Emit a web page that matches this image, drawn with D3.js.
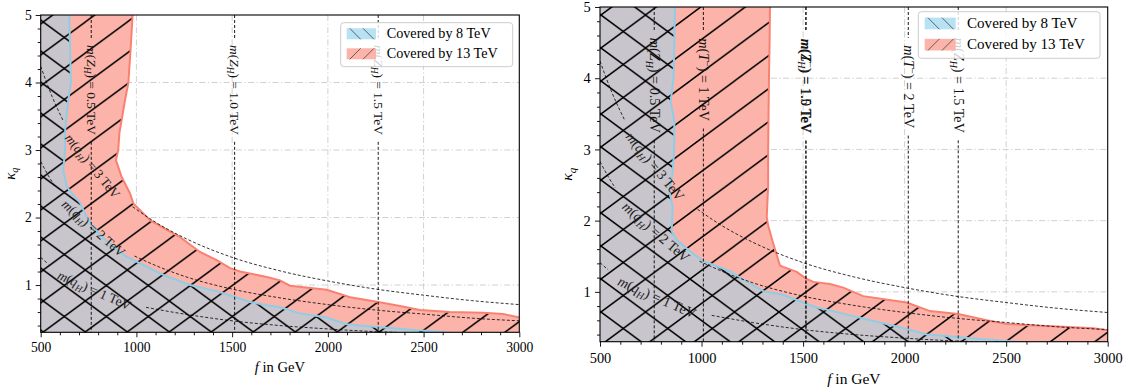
<!DOCTYPE html>
<html>
<head>
<meta charset="utf-8">
<script src="https://cdn.jsdelivr.net/npm/d3@7"></script>
<style>
  body { margin: 0; background: #fff; }
  svg { display: block; font-family: "Liberation Serif", "Times New Roman", serif; }
  text { white-space: pre; }
</style>
</head>
<body>
<svg id="chart" width="1128" height="390"></svg>
<script>
// ---- values: f in GeV, kappa_q ----
const fTicks = [500, 1000, 1500, 2000, 2500, 3000];
const kappaTicks = [1, 2, 3, 4, 5];
const legendLabels = ['Covered by 8 TeV', 'Covered by 13 TeV'];

// exclusion boundaries, left plot
const left13 = [[980,5],[972,4.6],[958,4],[940,3.73],[911,3.25],[905,3],[893,2.85],[923,2.6],[966,2.36],[984,2.21],
  [1071,1.96],[1175,1.79],[1228,1.71],[1332,1.49],[1419,1.37],[1489,1.25],[1541,1.2],[1593,1.17],[1681,1.12],
  [1750,1.07],[1802,0.99],[1994,0.93],[2116,0.82],[2263,0.75],[2377,0.69],[2481,0.63],[2638,0.6],[2812,0.59],
  [2916,0.57],[3000,0.52]];
const left8 = [[649,5],[658,4],[644,3.74],[628,3.3],[627,3],[618,2.7],[636,2.46],[662,2.36],[705,2.22],[740,2.01],
  [775,1.86],[819,1.72],[879,1.57],[949,1.42],[1019,1.32],[1140,1.15],[1280,1.0],[1419,0.91],[1506,0.83],
  [1593,0.75],[1681,0.7],[1750,0.67],[1854,0.58],[1994,0.52],[2098,0.42],[2168,0.4],[2255,0.38],[2342,0.36],
  [2464,0.33],[2586,0.31],[2650,0.29]];

// exclusion boundaries, right plot
const right13 = [[1337,5],[1335,4.5],[1332,4],[1330,3.5],[1328,3],[1328,2.49],[1321,2.05],[1328,1.93],[1353,1.68],
  [1386,1.37],[1402,1.35],[1469,1.28],[1518,1.18],[1551,1.14],[1632,1.11],[1698,1.06],[1796,0.94],[2010,0.85],
  [2125,0.73],[2264,0.69],[2404,0.6],[2503,0.55],[2617,0.53],[2781,0.51],[2929,0.49],[3000,0.46]];
const right8 = [[869,5],[866,4.5],[862,4],[848,3.67],[866,3.4],[865,3],[858,2.68],[841,2.41],[858,2.2],[853,1.85],
  [878,1.73],[943,1.57],[1009,1.43],[1140,1.29],[1206,1.17],[1304,1.01],[1402,0.96],[1501,0.85],[1567,0.78],
  [1632,0.74],[1731,0.67],[1879,0.57],[2010,0.48],[2108,0.4],[2207,0.38],[2322,0.35],[2453,0.32],[2551,0.3],
  [2650,0.29]];

// m(q_H) contours (dashed), split where the inline label sits
const qH3Before = [[500,4.24],[560,3.79],[620,3.42]];
const qH3After = [[980,2.16],[1100,1.93],[1250,1.7],[1500,1.41],[1750,1.21],[2000,1.06],[2250,0.94],[2500,0.85],[2750,0.77],[3000,0.71]];
const qH2Before = [[500,2.83],[540,2.62],[575,2.46]];
const qH2After = [[990,1.43],[1100,1.29],[1250,1.13],[1500,0.94],[1750,0.81],[2000,0.71],[2250,0.63],[2500,0.57],[2750,0.51],[3000,0.47]];
const qH1Before = [[500,1.41],[540,1.31]];
const qH1After = [[1050,0.67],[1250,0.57],[1500,0.47],[1750,0.4],[2000,0.35],[2250,0.31],[2357,0.3]];
const qHMasses = ['3', '2', '1'];
const qHLabelAt = [[770,2.76],[775,1.84],[780,0.92]];

// vertical mass lines: [f, mass label, kappa of label centre]
const leftZH = [[764,'0.5',3.89],[1513,'1.0',3.89],[2263,'1.5',3.89]];
const rightZH = [[767,'0.5',3.9],[1514,'1.0',3.89],[2264,'1.5',3.9]];
const rightT = [[1009,'1',3.98],[1514,'1.5',3.89],[2018,'2',3.88]];

const svg = d3.select('#chart');
const serif = '"Liberation Serif", "Times New Roman", serif';

function mathText(sel, parts, fs) {
  parts.forEach(p => {
    const t = sel.append('tspan').text(p.t);
    if (p.i) t.attr('font-style', 'italic');
    if (p.sub) t.attr('font-size', fs * 0.7).attr('dy', fs * 0.25);
    if (p.sup) t.attr('font-size', fs * 0.7).attr('dy', -fs * 0.38);
    if (p.back) t.attr('dy', p.back * fs);
  });
  return sel;
}
const zhParts = v => [{t:'m',i:1},{t:'('},{t:'Z',i:1},{t:'H',i:1,sub:1},{t:') = ' + v + ' TeV',back:-0.25}];
const tParts = v => [{t:'m',i:1},{t:'('},{t:'T',i:1},{t:'−',sup:1},{t:') = ' + v + ' TeV',back:0.38}];
const qParts = v => [{t:'m',i:1},{t:'('},{t:'q',i:1},{t:'H',i:1,sub:1},{t:') = ' + v + ' TeV',back:-0.25}];

function drawPanel(cfg) {
  const s = cfg.s, id = cfg.id;
  const x = d3.scaleLinear().domain([500, 3000]).range([cfg.x0, cfg.x1]);
  const y = d3.scaleLinear().domain([0.3, 5]).range([cfg.y1, cfg.y0]);
  const g = svg.append('g');
  const defs = g.append('defs');
  defs.append('clipPath').attr('id', id + 'clip').append('rect')
    .attr('x', cfg.x0).attr('y', cfg.y0).attr('width', cfg.x1 - cfg.x0).attr('height', cfg.y1 - cfg.y0);

  // hatching: '/' for 13 TeV, '\' for 8 TeV
  const hw = cfg.hatch.w, hh = cfg.hatch.h;
  const fwd = `M${-hw/2},${hh/2}L${hw/2},${-hh/2}M0,${hh}L${hw},0M${hw/2},${1.5*hh}L${1.5*hw},${hh/2}`;
  const back = `M${-hw/2},${hh/2}L${hw/2},${1.5*hh}M0,0L${hw},${hh}M${hw/2},${-hh/2}L${1.5*hw},${hh/2}`;
  function pattern(pid, bg, paths) {
    const p = defs.append('pattern').attr('id', pid).attr('patternUnits', 'userSpaceOnUse')
      .attr('x', cfg.hatch.ox).attr('y', cfg.hatch.oy).attr('width', hw).attr('height', hh);
    p.append('rect').attr('width', hw).attr('height', hh).attr('fill', bg);
    paths.forEach(d => p.append('path').attr('d', d).attr('stroke', '#000').attr('stroke-width', 1.5).attr('fill', 'none'));
  }
  pattern(id + 'red', '#fcb4aa', [fwd]);
  pattern(id + 'gray', '#c8c5cc', [fwd, back]);

  // grid
  const grid = g.append('g').attr('stroke', '#d0d0d0').attr('stroke-width', 1)
    .attr('stroke-dasharray', '6,2.5,1.2,2.5');
  grid.selectAll('line.v').data(fTicks.filter(v => v > 500 && v < 3000)).join('line')
    .attr('x1', d => x(d)).attr('x2', d => x(d)).attr('y1', cfg.y0).attr('y2', cfg.y1);
  grid.selectAll('line.h').data(kappaTicks.filter(v => v < 5)).join('line')
    .attr('x1', cfg.x0).attr('x2', cfg.x1).attr('y1', d => y(d)).attr('y2', d => y(d));

  const plot = g.append('g').attr('clip-path', `url(#${id}clip)`);
  const lin = d3.line().x(d => x(d[0])).y(d => y(d[1]));

  // 13 TeV region (everything left of / below the red boundary)
  const r = cfg.red, b = cfg.blue;
  const redPoly = [[480, 5.2], [r[0][0], 5.2], ...r, [3020, r[r.length-1][1]], [3020, 0.1], [480, 0.1]];
  const bluePoly = [[480, 5.2], [b[0][0], 5.2], ...b, [b[b.length-1][0], 0.1], [480, 0.1]];
  plot.append('path').attr('d', lin(redPoly) + 'Z').attr('fill', `url(#${id}red)`);
  plot.append('path').attr('d', lin(bluePoly) + 'Z').attr('fill', `url(#${id}gray)`);
  plot.append('path').attr('d', lin([[r[0][0], 5.2], ...r, [3020, r[r.length-1][1]]]))
    .attr('fill', 'none').attr('stroke', '#fa8072').attr('stroke-width', 2);
  plot.append('path').attr('d', lin([[b[0][0], 5.2], ...b]))
    .attr('fill', 'none').attr('stroke', '#8ecde8').attr('stroke-width', 2);

  // m(q_H) contours with inline labels
  const curveLine = d3.line().x(d => x(d[0])).y(d => y(d[1])).curve(d3.curveMonotoneX);
  const qSegs = [[qH3Before, qH3After], [qH2Before, qH2After], [qH1Before, qH1After]];
  const fsL = 13.4 * s;
  qSegs.forEach((seg, i) => {
    seg.forEach(pts => plot.append('path').attr('d', curveLine(pts)).attr('fill', 'none')
      .attr('stroke', '#000').attr('stroke-width', 0.8).attr('stroke-dasharray', '3,2'));
    const a = seg[0][seg[0].length - 1], c = seg[1][0];
    const ang = Math.atan2(y(c[1]) - y(a[1]), x(c[0]) - x(a[0])) * 180 / Math.PI;
    const [lf, lk] = qHLabelAt[i];
    const t = plot.append('text').attr('transform', `translate(${x(lf)},${y(lk)}) rotate(${ang})`)
      .attr('text-anchor', 'middle').attr('dy', '0.32em').attr('font-size', fsL).attr('fill', '#222');
    mathText(t, qParts(qHMasses[i]), fsL);
  });

  // vertical mass lines with inline labels
  cfg.vlines.forEach(v => {
    const [f, val, kc] = v.d;
    const px = x(f), pc = y(kc);
    const t = plot.append('text').attr('transform', `translate(${px},${pc}) rotate(90)`)
      .attr('text-anchor', 'middle').attr('dy', '0.32em').attr('font-size', fsL).attr('fill', '#111');
    mathText(t, v.parts(val), fsL);
    const L = t.node().getComputedTextLength();
    const pad = 7 * s;
    [[cfg.y0, pc - L / 2 - pad], [pc + L / 2 + pad, cfg.y1]].forEach(([a, c]) => {
      plot.append('line').attr('x1', px).attr('x2', px).attr('y1', a).attr('y2', c)
        .attr('stroke', '#000').attr('stroke-width', 0.9).attr('stroke-dasharray', '3,2');
    });
  });

  // axes
  const fsT = 13.6 * s;
  const xMajor = d3.axisBottom(x).tickValues(fTicks).tickFormat(d3.format('d'))
    .tickSize(5).tickPadding(20 * s - 5 - 0.71 * fsT);
  const xMinor = d3.axisBottom(x).tickValues(x.ticks(25).filter(v => v % 500 !== 0)).tickSize(3).tickFormat('');
  const yMajor = d3.axisLeft(y).tickValues(kappaTicks).tickFormat(d3.format('d')).tickSize(5).tickPadding(4 * s);
  const yMinor = d3.axisLeft(y).tickValues(y.ticks(20).filter(v => Math.abs(v - Math.round(v)) > 1e-6)).tickSize(3).tickFormat('');
  [[xMajor, `translate(0,${cfg.y1})`], [xMinor, `translate(0,${cfg.y1})`],
   [yMajor, `translate(${cfg.x0},0)`], [yMinor, `translate(${cfg.x0},0)`]].forEach(([ax, tr]) => {
    const ga = g.append('g').attr('transform', tr).call(ax);
    ga.attr('font-family', serif).attr('font-size', fsT);
    ga.select('.domain').remove();
    ga.selectAll('line').attr('stroke', '#000').attr('stroke-width', 0.9);
    ga.selectAll('text').attr('font-family', serif).attr('font-size', fsT).attr('fill', '#000');
  });
  g.append('rect').attr('x', cfg.x0).attr('y', cfg.y0)
    .attr('width', cfg.x1 - cfg.x0).attr('height', cfg.y1 - cfg.y0)
    .attr('fill', 'none').attr('stroke', '#000').attr('stroke-width', 1.1);

  const fsA = 14.6 * s;
  const xl = g.append('text').attr('x', (cfg.x0 + cfg.x1) / 2).attr('y', cfg.y1 + 40 * s)
    .attr('text-anchor', 'middle').attr('font-size', fsA);
  mathText(xl, [{t:'f',i:1},{t:' in GeV'}], fsA);
  const yl = g.append('text').attr('transform', `translate(${cfg.x0 - 26 * s},${(cfg.y0 + cfg.y1) / 2}) rotate(-90)`)
    .attr('text-anchor', 'middle').attr('font-size', fsA);
  mathText(yl, [{t:'κ',i:1},{t:'q',i:1,sub:1}], fsA);

  // legend
  const L = cfg.legend;
  const lg = g.append('g').attr('transform', `translate(${L.x},${L.y})`);
  lg.append('rect').attr('width', L.w).attr('height', L.h).attr('rx', 3)
    .attr('fill', '#fff').attr('fill-opacity', 0.8).attr('stroke', '#cccccc').attr('stroke-width', 1);
  const pw = 29.3 * s, ph = 11 * s;
  legendLabels.forEach((lab, i) => {
    const py = (5.6 + 20 * i) * s;
    const pg = lg.append('g').attr('transform', `translate(${6 * s},${py})`);
    pg.append('rect').attr('width', pw).attr('height', ph).attr('fill', i === 0 ? '#b7e2f3' : '#fcb4aa');
    const step = 13.3 * s;
    [0, 1].forEach(k => {
      const x0 = 3 * s + k * step;
      pg.append('line')
        .attr('x1', x0).attr('x2', x0 + ph)
        .attr('y1', i === 0 ? 0 : ph).attr('y2', i === 0 ? ph : 0)
        .attr('stroke', '#444').attr('stroke-width', 0.8);
    });
    lg.append('text').attr('x', 46 * s).attr('y', (15.6 + 20 * i) * s)
      .attr('font-size', 14.2 * s).text(lab);
  });
}

drawPanel({
  id: 'L', s: 1, x0: 40.7, x1: 519.3, y0: 15, y1: 332.3,
  red: left13, blue: left8,
  hatch: { w: 42, h: 31, ox: 43.3, oy: 22 },
  vlines: leftZH.map(d => ({ d, parts: zhParts })),
  legend: { x: 340.7, y: 22.7, w: 172, h: 44 }
});
drawPanel({
  id: 'R', s: 1.06, x0: 600, x1: 1107.7, y0: 7, y1: 341.7,
  red: right13, blue: right8,
  hatch: { w: 44.5, h: 33, ox: 601, oy: 15 },
  vlines: rightZH.map(d => ({ d, parts: zhParts })).concat(rightT.map(d => ({ d, parts: tParts }))),
  legend: { x: 918.3, y: 11.7, w: 181.7, h: 46.6 }
});
</script>
</body>
</html>
